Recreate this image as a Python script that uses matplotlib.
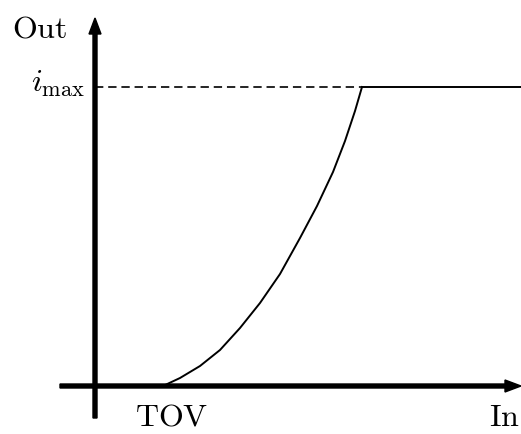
import matplotlib
matplotlib.use("Agg")
import matplotlib.pyplot as plt

plt.rcParams["mathtext.fontset"] = "cm"
plt.rcParams["lines.scale_dashes"] = False

# data (1 unit ~ 1 px, origin at the axes crossing)
curve_x = [68, 85, 105, 125, 145, 165, 185, 205, 222, 238, 250, 260, 267]
curve_y = [0, 8, 20, 36, 58, 83, 112, 148, 180, 214, 245, 275, 299]
i_max = 299
x_end = 426

fig = plt.figure(figsize=(5.21, 4.34), dpi=100)
ax = fig.add_axes([0, 0, 1, 1])
ax.set_xlim(-95, 426)
ax.set_ylim(-48, 386)
ax.axis("off")

# axes with arrow heads
ax.arrow(-35, 0, 461, 0, width=4, head_width=12, head_length=16,
         length_includes_head=True, color="black")
ax.arrow(0, -32, 0, 400, width=4, head_width=12, head_length=16,
         length_includes_head=True, color="black")

# saturation curve
ax.plot(curve_x, curve_y, color="black", lw=1.4, solid_joinstyle="round")
ax.plot([curve_x[-1], x_end], [i_max, i_max], color="black", lw=1.4)
ax.plot([0, curve_x[-1]], [i_max, i_max], color="black", lw=1.2,
        linestyle=(0, (6, 3.5)))

fs = 23
ax.text(-83, 349, r"$\mathrm{Out}$", fontsize=fs, ha="left", va="baseline")
ax.text(-10, 294, r"$i_{\max}$", fontsize=fs, ha="right", va="baseline")
ax.text(40, -40, r"$\mathrm{TOV}$", fontsize=fs, ha="left", va="baseline")
ax.text(394, -40, r"$\mathrm{In}$", fontsize=fs, ha="left", va="baseline")

fig.savefig("out.png", dpi=100)
